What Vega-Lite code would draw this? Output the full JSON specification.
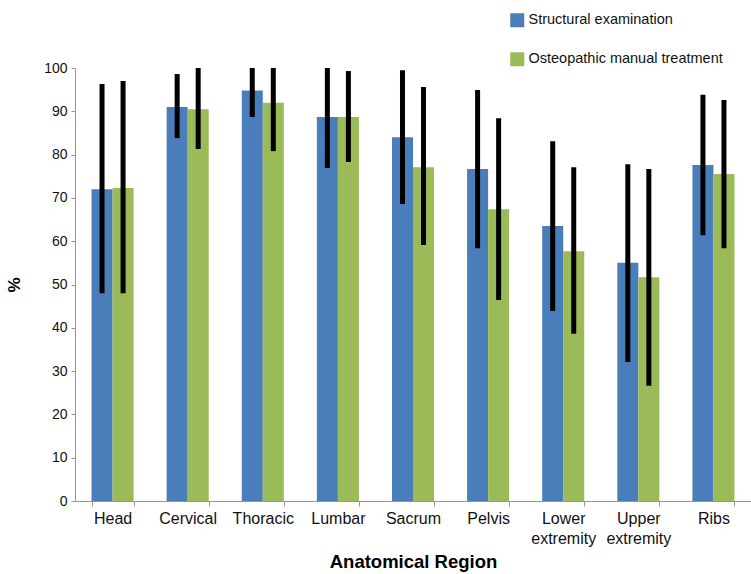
{
  "$schema": "https://vega.github.io/schema/vega-lite/v6.json",
  "width": 676,
  "height": 433,
  "autosize": "none",
  "padding": {"left": 75, "top": 68, "right": 0, "bottom": 73},
  "background": "white",
  "config": {
    "view": {"stroke": null},
    "font": "Liberation Sans"
  },
  "data": {
    "values": [
      {"region": "Head", "series": "Structural examination", "value": 72, "low": 48, "high": 96.3},
      {"region": "Head", "series": "Osteopathic manual treatment", "value": 72.3, "low": 48, "high": 97},
      {"region": "Cervical", "series": "Structural examination", "value": 91, "low": 83.8, "high": 98.6},
      {"region": "Cervical", "series": "Osteopathic manual treatment", "value": 90.5, "low": 81.3, "high": 100},
      {"region": "Thoracic", "series": "Structural examination", "value": 94.8, "low": 88.7, "high": 100},
      {"region": "Thoracic", "series": "Osteopathic manual treatment", "value": 92, "low": 80.8, "high": 100},
      {"region": "Lumbar", "series": "Structural examination", "value": 88.7, "low": 76.9, "high": 100},
      {"region": "Lumbar", "series": "Osteopathic manual treatment", "value": 88.7, "low": 78.3, "high": 99.3},
      {"region": "Sacrum", "series": "Structural examination", "value": 84, "low": 68.6, "high": 99.5},
      {"region": "Sacrum", "series": "Osteopathic manual treatment", "value": 77.1, "low": 59.1, "high": 95.6},
      {"region": "Pelvis", "series": "Structural examination", "value": 76.7, "low": 58.4, "high": 94.9},
      {"region": "Pelvis", "series": "Osteopathic manual treatment", "value": 67.4, "low": 46.4, "high": 88.4},
      {"region": "Lower extremity", "series": "Structural examination", "value": 63.5, "low": 43.9, "high": 83.1},
      {"region": "Lower extremity", "series": "Osteopathic manual treatment", "value": 57.7, "low": 38.6, "high": 77.1},
      {"region": "Upper extremity", "series": "Structural examination", "value": 55, "low": 32.1, "high": 77.8},
      {"region": "Upper extremity", "series": "Osteopathic manual treatment", "value": 51.7, "low": 26.6, "high": 76.7},
      {"region": "Ribs", "series": "Structural examination", "value": 77.6, "low": 61.4, "high": 93.8},
      {"region": "Ribs", "series": "Osteopathic manual treatment", "value": 75.5, "low": 58.4, "high": 92.6}
    ]
  },
  "encoding": {
    "x": {
      "field": "region",
      "type": "nominal",
      "sort": null,
      "scale": {"paddingInner": 0.44, "paddingOuter": 0.22},
      "axis": {
        "title": "Anatomical Region",
        "titleFont": "Liberation Sans",
        "titleFontSize": 18.5,
        "titleFontWeight": "bold",
        "titleColor": "#000000",
        "titlePadding": 6,
        "labelAngle": 0,
        "labelFontSize": 16,
        "labelColor": "#111111",
        "labelPadding": 4,
        "labelExpr": "split(datum.label, ' ')",
        "labelLineHeight": 20,
        "domainColor": "#a09090",
        "tickColor": "#a09090",
        "tickBand": "extent",
        "tickSize": 5
      }
    },
    "xOffset": {
      "field": "series",
      "type": "nominal",
      "scale": {"domain": ["Structural examination", "Osteopathic manual treatment"]}
    }
  },
  "layer": [
    {
      "mark": {"type": "bar"},
      "encoding": {
        "y": {
          "field": "value",
          "type": "quantitative",
          "scale": {"domain": [0, 100]},
          "axis": {
            "title": "%",
            "titleFontSize": 17,
            "titleFontWeight": "bold",
            "titleColor": "#000000",
            "titlePadding": 20,
            "values": [0, 10, 20, 30, 40, 50, 60, 70, 80, 90, 100],
            "labelFontSize": 14,
            "labelColor": "#111111",
            "labelPadding": 4,
            "grid": false,
            "domainColor": "#a09090",
            "tickColor": "#a09090",
            "tickSize": 4
          }
        },
        "color": {
          "field": "series",
          "type": "nominal",
          "scale": {
            "domain": ["Structural examination", "Osteopathic manual treatment"],
            "range": ["#4a7ebb", "#9bbb59"]
          },
          "legend": {
            "title": null,
            "orient": "none",
            "legendX": 435,
            "legendY": -55,
            "symbolType": "square",
            "symbolSize": 196,
            "symbolStrokeWidth": 0,
            "labelFontSize": 14.5,
            "labelLimit": 400,
            "labelColor": "#111111",
            "labelOffset": 4,
            "rowPadding": 23
          }
        }
      }
    },
    {
      "mark": {"type": "rule", "color": "#000000", "strokeWidth": 5},
      "encoding": {
        "y": {"field": "low", "type": "quantitative"},
        "y2": {"field": "high"}
      }
    }
  ]
}
